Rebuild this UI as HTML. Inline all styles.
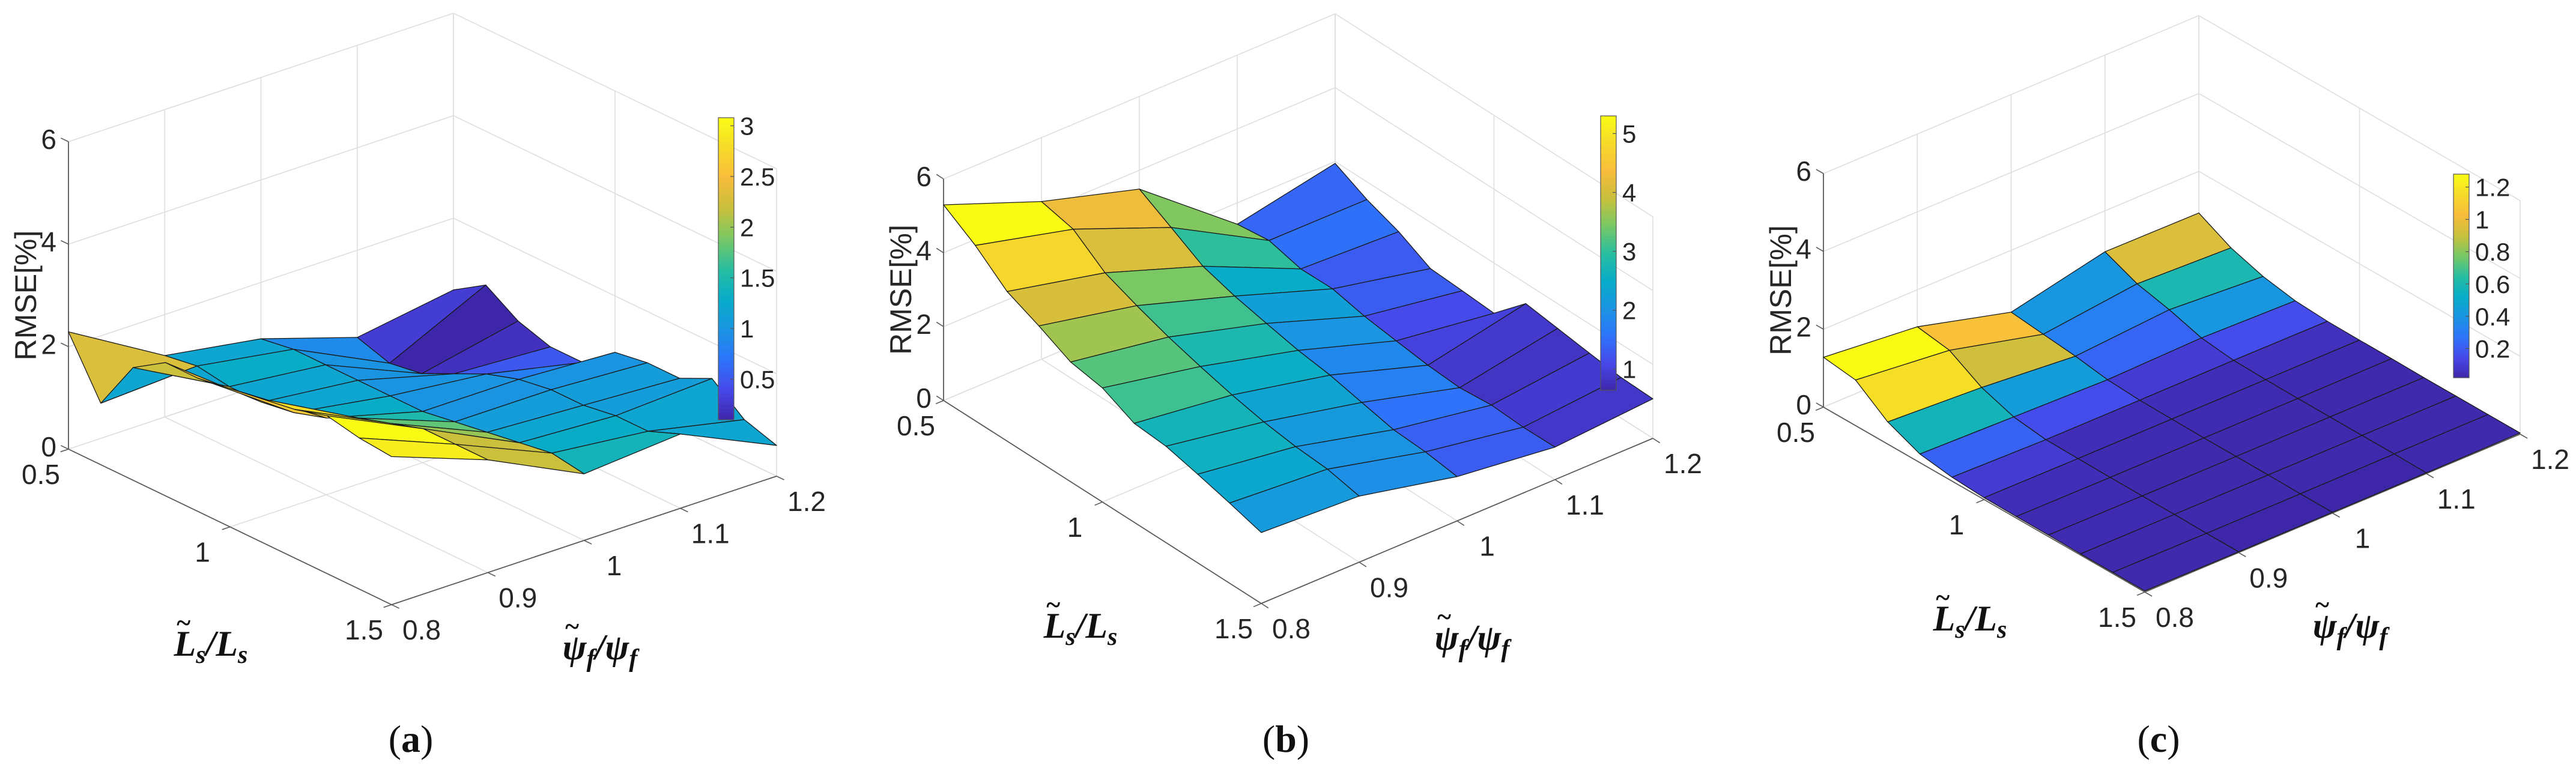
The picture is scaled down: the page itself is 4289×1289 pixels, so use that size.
<!DOCTYPE html>
<html><head><meta charset="utf-8">
<style>
html,body{margin:0;padding:0;background:#fff;}
svg{display:block;}
text{font-family:"Liberation Sans",sans-serif;}
</style></head>
<body>
<svg id="fig" width="4289" height="1289" viewBox="0 0 4289 1289" xmlns="http://www.w3.org/2000/svg">
<rect x="0" y="0" width="4289" height="1289" fill="#fff"/>
</svg>
<script>
// ---- data ----
const lsRatio = [0.5,0.6,0.7,0.8,0.9,1.0,1.1,1.2,1.3,1.4,1.5];
const psiRatio = [0.8,0.9,1.0,1.1,1.2];
const zTicks = [0,2,4,6];
const lsTicks = [0.5,1,1.5];
const lsTickLabels = ["0.5","1","1.5"];
const psiTicks = [0.8,0.9,1.0,1.1,1.2];
const psiTickLabels = ["0.8","0.9","1","1.1","1.2"];
// rows: Ls index, columns: psi index
const rmseA = [
 [2.29,1.20,0.90,0.30,0.60],
 [1.20,1.30,1.00,0.10,1.00],
 [2.20,1.20,1.00,0.20,0.60],
 [2.60,1.20,1.00,0.50,0.40],
 [2.60,1.30,1.00,0.80,0.40],
 [2.70,1.50,1.00,1.00,0.90],
 [2.80,1.80,1.10,1.10,1.00],
 [2.90,2.00,1.20,1.10,1.00],
 [3.08,2.20,1.30,1.20,1.30],
 [2.95,2.20,1.40,1.20,0.80],
 [2.89,2.20,1.30,1.45,0.60]
];
const rmseB = [
 [5.30,4.27,3.49,1.42,1.95],
 [4.75,4.07,3.00,1.53,1.52],
 [4.05,3.44,2.50,1.31,1.20],
 [3.67,3.10,2.24,1.32,0.75],
 [3.24,2.80,2.05,1.13,0.70],
 [3.09,2.55,1.87,1.01,0.64],
 [2.68,2.33,1.75,0.90,1.45],
 [2.61,2.15,1.56,0.84,1.33],
 [2.40,2.03,1.37,0.92,1.21],
 [2.17,1.97,1.32,0.87,1.10],
 [1.92,1.79,1.20,0.88,1.07]
];
const rmseC = [
 [1.28,1.05,0.41,0.95,0.93],
 [1.17,0.92,0.32,0.60,0.51],
 [0.57,0.44,0.23,0.41,0.25],
 [0.22,0.16,0.10,0.16,0.10],
 [0.10,0.05,0.05,0.06,0.05],
 [0.05,0.04,0.04,0.04,0.04],
 [0.04,0.03,0.03,0.03,0.04],
 [0.04,0.03,0.03,0.03,0.03],
 [0.03,0.03,0.03,0.03,0.03],
 [0.03,0.02,0.02,0.03,0.03],
 [0.03,0.02,0.02,0.02,0.03]
];
const cbTicksA = [0.5,1,1.5,2,2.5,3];
const cbTicksB = [1,2,3,4,5];
const cbTicksC = [0.2,0.4,0.6,0.8,1,1.2];
const panelLetters = ["a","b","c"];

// ---- layout (not data) ----
const panels = [
 {id:"a", z:rmseA, cbt:cbTicksA, O:[114,748], Lv:[538,259], Pv:[641,-214], Z6:512, cb:{x:1196,w:26,y0:196,y1:699},
  lsLab:[351,1072], psiLab:[999,1078], cap:684},
 {id:"b", z:rmseB, cbt:cbTicksB, O:[1571,667], Lv:[529,338], Pv:[652,-275], Z6:369, cb:{x:2665,w:26,y0:193,y1:650},
  lsLab:[1799,1042], psiLab:[2451,1062], cap:2141},
 {id:"c", z:rmseC, cbt:cbTicksC, O:[3036,678], Lv:[535,308], Pv:[625,-263], Z6:389, cb:{x:4085,w:26,y0:290,y1:629},
  lsLab:[3280,1030], psiLab:[3913,1042], cap:3594}
];

const stops = [
 [0.0,[62,38,168]],[0.1,[71,72,234]],[0.2,[45,116,250]],[0.3,[26,148,226]],
 [0.4,[8,172,200]],[0.5,[40,190,160]],[0.6,[120,200,100]],[0.7,[200,192,60]],
 [0.8,[248,188,60]],[0.9,[246,218,42]],[1.0,[249,251,20]]
];
function cmap(t){
 t=Math.max(0,Math.min(1,t));
 for(let k=0;k<stops.length-1;k++){
  const a=stops[k],b=stops[k+1];
  if(t<=b[0]){const f=(t-a[0])/(b[0]-a[0]);
   const c=a[1].map((v,i)=>Math.round(v+(b[1][i]-v)*f));
   return "rgb("+c.join(",")+")";}
 }
 return "rgb(249,251,20)";
}
const NS="http://www.w3.org/2000/svg";
const svg=document.getElementById("fig");
function mk(tag,attrs,parent){const e=document.createElementNS(NS,tag);for(const k in attrs)e.setAttribute(k,attrs[k]);(parent||svg).appendChild(e);return e;}

function mathLabel(g,cx,cy,sym,sub,name){
 // symbol~ _sub / symbol _sub, tilde drawn as separate overlay
 const st="font-family:'Liberation Serif','DejaVu Serif',serif";
 const t=mk("text",{x:cx,y:cy,"text-anchor":"middle","font-size":60,"font-weight":"bold","font-style":"italic",fill:"#111",style:st},g);
 t.innerHTML='<tspan>'+sym+'</tspan><tspan font-size="42" dy="12">'+sub+'</tspan><tspan dy="-12">/'+sym+'</tspan><tspan font-size="42" dy="12">'+sub+'</tspan>';
 
 
 const w=t.getComputedTextLength ? t.getComputedTextLength() : 130;
 const tl=mk("text",{x:cx-w/2+16,y:cy-40,"text-anchor":"middle","font-size":44,"font-weight":"bold",fill:"#111",style:st},g);
 tl.textContent="~";
 
 
}

panels.forEach((p,pi)=>{
 const g=mk("g",{});
 
 
 const Lmin=lsRatio[0],Lmax=lsRatio[lsRatio.length-1],Pmin=psiRatio[0],Pmax=psiRatio[psiRatio.length-1];
 function proj(L,ps,z){
  const fl=(L-Lmin)/(Lmax-Lmin),fp=(ps-Pmin)/(Pmax-Pmin);
  return [p.O[0]+fl*p.Lv[0]+fp*p.Pv[0], p.O[1]+fl*p.Lv[1]+fp*p.Pv[1]-z/6*p.Z6];
 }
 function line(a,b,stroke,w,name,parent){
  const e=mk("line",{x1:a[0],y1:a[1],x2:b[0],y2:b[1],stroke:stroke,"stroke-width":w},parent||g);
  
  
  return e;
 }
 const grid="#dedede";
 zTicks.forEach(z=>line(proj(Lmin,Pmin,z),proj(Lmin,Pmax,z),grid,1.6,'grid-line'));
 psiTicks.forEach(ps=>line(proj(Lmin,ps,0),proj(Lmin,ps,6),grid,1.6,'grid-line'));
 zTicks.forEach(z=>line(proj(Lmin,Pmax,z),proj(Lmax,Pmax,z),grid,1.6,'grid-line'));
 lsTicks.forEach(L=>line(proj(L,Pmax,0),proj(L,Pmax,6),grid,1.6,'grid-line'));
 lsTicks.forEach(L=>line(proj(L,Pmin,0),proj(L,Pmax,0),grid,1.6,'grid-line'));
 psiTicks.forEach(ps=>line(proj(Lmin,ps,0),proj(Lmax,ps,0),grid,1.6,'grid-line'));
 const ax="#5a5a5a";
 line(proj(Lmin,Pmin,0),proj(Lmin,Pmin,6),ax,1.8,'z-axis');
 line(proj(Lmin,Pmin,0),proj(Lmax,Pmin,0),ax,1.8,'ls-axis');
 line(proj(Lmax,Pmin,0),proj(Lmax,Pmax,0),ax,1.8,'psi-axis');
 const nl=Math.hypot(p.Lv[0],p.Lv[1]), np=Math.hypot(p.Pv[0],p.Pv[1]);
 const tk=14;
 zTicks.forEach(z=>{const a=proj(Lmin,Pmin,z);line(a,[a[0]-p.Lv[0]/nl*tk,a[1]-p.Lv[1]/nl*tk],ax,1.6,'z-tick');
  const t=mk("text",{x:a[0]-20,y:a[1]+12,"text-anchor":"end","font-size":46,fill:"#262626"},g);t.textContent=String(z);
  
  });
 lsTicks.forEach((L,k)=>{const a=proj(L,Pmin,0);line(a,[a[0]-p.Pv[0]/np*tk,a[1]-p.Pv[1]/np*tk],ax,1.6,'ls-tick');
  const t=mk("text",{x:a[0]-46,y:a[1]+58,"text-anchor":"middle","font-size":46,fill:"#262626"},g);t.textContent=lsTickLabels[k];
  
  });
 psiTicks.forEach((ps,k)=>{const a=proj(Lmax,ps,0);line(a,[a[0]+p.Lv[0]/nl*tk,a[1]+p.Lv[1]/nl*tk],ax,1.6,'psi-tick');
  const t=mk("text",{x:a[0]+50,y:a[1]+58,"text-anchor":"middle","font-size":46,fill:"#262626"},g);t.textContent=psiTickLabels[k];
  
  });
 const zt=mk("text",{x:0,y:0,"text-anchor":"middle","font-size":50,fill:"#262626",transform:"translate("+(p.O[0]-54)+","+(p.O[1]-p.Z6/2)+") rotate(-90)"},g);
 zt.textContent="RMSE[%]";
 
 
 const Z=p.z;let zmin=Infinity,zmax=-Infinity;
 Z.forEach(r=>r.forEach(v=>{zmin=Math.min(zmin,v);zmax=Math.max(zmax,v);}));
 const faces=[];
 for(let i=0;i<lsRatio.length-1;i++)for(let j=0;j<psiRatio.length-1;j++){
  const base=proj((lsRatio[i]+lsRatio[i+1])/2,(psiRatio[j]+psiRatio[j+1])/2,0)[1];
  faces.push({i,j,base});
 }
 faces.sort((a,b)=>a.base-b.base);
 const sg=mk("g",{},g);
 
 
 faces.forEach(f=>{
  const {i,j}=f;
  const pts=[proj(lsRatio[i],psiRatio[j],Z[i][j]),proj(lsRatio[i+1],psiRatio[j],Z[i+1][j]),
   proj(lsRatio[i+1],psiRatio[j+1],Z[i+1][j+1]),proj(lsRatio[i],psiRatio[j+1],Z[i][j+1])];
  const poly=mk("polygon",{points:pts.map(q=>q[0].toFixed(1)+","+q[1].toFixed(1)).join(" "),
   fill:cmap((Z[i][j]-zmin)/(zmax-zmin)),stroke:"#1a1a1a","stroke-width":1.3,"stroke-linejoin":"round"},sg);
  
  
 });
 const cb=p.cb;const cg=mk("g",{},g);
 
 
 const N=80,h=(cb.y1-cb.y0)/N;
 for(let k=0;k<N;k++){
  mk("rect",{x:cb.x,y:(cb.y1-(k+1)*h).toFixed(2),width:cb.w,height:(h+0.6).toFixed(2),fill:cmap((k+0.5)/N)},cg);
 }
 mk("rect",{x:cb.x,y:cb.y0,width:cb.w,height:cb.y1-cb.y0,fill:"none",stroke:"#555","stroke-width":1.2},cg);
 p.cbt.forEach(v=>{
  const y=cb.y1-(v-zmin)/(zmax-zmin)*(cb.y1-cb.y0);
  mk("line",{x1:cb.x+cb.w-6,y1:y,x2:cb.x+cb.w,y2:y,stroke:"#555","stroke-width":1.2},cg);
  const t=mk("text",{x:cb.x+cb.w+10,y:y+15,"font-size":42,fill:"#262626"},cg);t.textContent=String(v);
  
  
 });
 mathLabel(g,p.lsLab[0],p.lsLab[1]+20,"L","s",'ls-axis-title');
 mathLabel(g,p.psiLab[0],p.psiLab[1]+20,"\u03C8","f",'psi-axis-title');
 const ct=mk("text",{x:p.cap,y:1252,"text-anchor":"middle","font-size":64,fill:"#111",style:"font-family:'Liberation Serif',serif"},g);
 ct.innerHTML='(<tspan font-weight="bold">'+panelLetters[pi]+'</tspan>)';
 
 
});
</script>
</body></html>
